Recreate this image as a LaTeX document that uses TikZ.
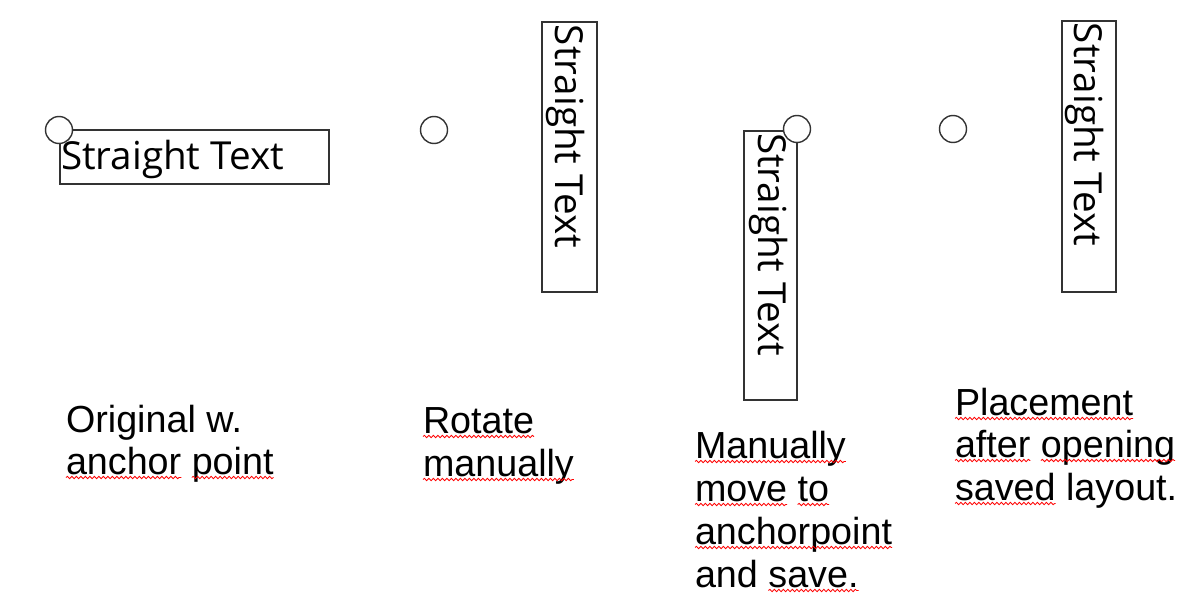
\documentclass[tikz,border=0pt]{standalone}
\usepackage{fontspec}
\setmainfont{Liberation Sans}
\newfontfamily\boxfont{Open Sans}
\usetikzlibrary{decorations.pathmorphing}
\newcommand\squig[1]{\draw[squiggle] ([yshift=-3.5pt]#1.base west) -- ([yshift=-3.5pt]#1.base east);}
\begin{document}
\begin{tikzpicture}[x=1pt,y=-1pt,
  frame/.style={draw=black!80, line width=1.3pt, fill=none},
  anc/.style={circle, draw=black!80, fill=white, line width=1.4pt, minimum size=27pt, inner sep=0pt},
  stxt/.style={font=\boxfont\fontsize{38.6}{44}\selectfont, inner sep=0pt, outer sep=0pt, anchor=base west},
  lbl/.style={font=\fontsize{37.7}{42.5}\selectfont, inner sep=0pt, outer sep=0pt, anchor=base west},
  squiggle/.style={draw=red, line width=0.8pt, decorate, decoration={snake, segment length=4.5pt, amplitude=1.2pt}}]
\useasboundingbox (0,0) rectangle (1204,599);
% boxes
\draw[frame] (60,130) rectangle (329,184);
\draw[frame] (542,22) rectangle (597,292);
\draw[frame] (744,131) rectangle (797,400);
\draw[frame] (1062,21) rectangle (1116,292);
% anchor circles
\node[anc] (c1) at (59,130) {};
\node[anc] (c2) at (434,130) {};
\node[anc] (c3) at (797,129) {};
\node[anc] (c4) at (953,129) {};
% box texts
\node[stxt] (t1) at (61,169) {Straight Text};
\node[stxt, rotate=-90] (t2) at (555,25) {Straight Text};
\node[stxt, rotate=-90] (t3) at (758,133) {Straight Text};
\node[stxt, rotate=-90] (t4) at (1074,23) {Straight Text};
% label 1
\node[lbl] (o1) at (66,432) {Original w.};
\node[lbl] (o2a) at (66,474) {anchor};
\node[lbl] (o2b) at ([xshift=10.5pt]o2a.base east) {point};
\squig{o2a}\squig{o2b}
% label 2
\node[lbl] (r1) at (423,433) {Rotate};
\node[lbl] (r2) at (423,476) {manually};
\squig{r1}\squig{r2}
% label 3
\node[lbl] (m1) at (695,458) {Manually};
\node[lbl] (m2a) at (695,501) {move};
\node[lbl] (m2b) at ([xshift=10.5pt]m2a.base east) {to};
\node[lbl] (m3) at (695,544) {anchorpoint};
\node[lbl] (m4a) at (695,587) {and};
\node[lbl] (m4b) at ([xshift=10.5pt]m4a.base east) {save.};
\squig{m1}\squig{m2a}\squig{m2b}\squig{m3}\squig{m4b}
% label 4
\node[lbl] (p1) at (955,415) {Placement};
\node[lbl] (p2a) at (955,457) {after};
\node[lbl] (p2b) at ([xshift=10.5pt]p2a.base east) {opening};
\node[lbl] (p3a) at (955,500) {saved};
\node[lbl] (p3b) at ([xshift=10.5pt]p3a.base east) {layout.};
\squig{p1}\squig{p2a}\squig{p2b}\squig{p3a}
\end{tikzpicture}
\end{document}
